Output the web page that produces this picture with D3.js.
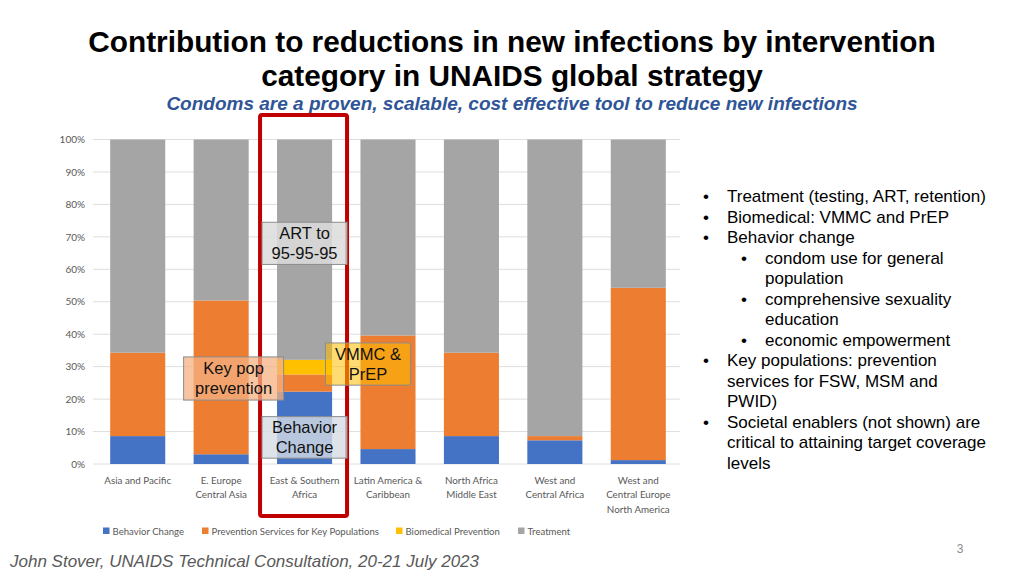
<!DOCTYPE html>
<html><head><meta charset="utf-8">
<script src="https://cdn.jsdelivr.net/npm/d3@7"></script>
<style>
html,body{margin:0;padding:0;background:#fff;}
svg{display:block;}
</style></head>
<body>
<svg id="c" width="1024" height="576"></svg>
<script>
const categories = ["Asia and Pacific", "E. Europe\nCentral Asia", "East & Southern\nAfrica", "Latin America &\nCaribbean", "North Africa\nMiddle East", "West and\nCentral Africa", "West and\nCentral Europe\nNorth America"];
const seriesNames = ["Behavior Change", "Prevention Services for Key Populations", "Biomedical Prevention", "Treatment"];
const behaviorChange = [8.6, 3.0, 22.3, 4.6, 8.6, 7.3, 1.2];
const keyPopulations = [25.7, 47.4, 5.3, 35.0, 25.7, 1.3, 53.1];
const biomedical = [0, 0, 4.5, 0, 0, 0, 0];
const treatment = [65.7, 49.6, 67.9, 60.4, 65.7, 91.4, 45.7];
const yTicks = [0, 10, 20, 30, 40, 50, 60, 70, 80, 90, 100];
const bullets = [
  {lvl:0, lines:["Treatment (testing, ART, retention)"]},
  {lvl:0, lines:["Biomedical: VMMC and PrEP"]},
  {lvl:0, lines:["Behavior change"]},
  {lvl:1, lines:["condom use for general", "population"]},
  {lvl:1, lines:["comprehensive sexuality", "education"]},
  {lvl:1, lines:["economic empowerment"]},
  {lvl:0, lines:["Key populations: prevention", "services for FSW, MSM and", "PWID)"]},
  {lvl:0, lines:["Societal enablers (not shown) are", "critical to attaining target coverage", "levels"]}
];
const callouts = [
  {lines:["ART to","95-95-95"], cat:2, y0:61.5, y1:74.5, fill:"#dcdcdc", op:0.85, dx:-15, w:85},
  {lines:["Key pop","prevention"], cat:1, y0:19.7, y1:33.0, fill:"#f4b183", op:0.75, dx:-10, w:100},
  {lines:["VMMC &","PrEP"], cat:3, y0:24.3, y1:37.3, fill:"#ffc000", op:0.55, dx:-35, w:85},
  {lines:["Behavior","Change"], cat:2, y0:1.8, y1:14.6, fill:"#d6dce5", op:0.8, dx:-15, w:85}
];

const colors = ["#4472c4", "#ed7d31", "#ffc000", "#a5a5a5"];
const svg = d3.select("#c");
const font = "'Liberation Sans', Arial, sans-serif";
const smallFont = "Lato, 'Open Sans', sans-serif";

// Titles
svg.append("text").attr("x", 512).attr("y", 52).attr("text-anchor", "middle")
  .style("font-family", font).style("font-weight", "bold").style("font-size", "29.8px").attr("fill", "#000")
  .text("Contribution to reductions in new infections by intervention");
svg.append("text").attr("x", 512).attr("y", 86).attr("text-anchor", "middle")
  .style("font-family", font).style("font-weight", "bold").style("font-size", "29.8px").attr("fill", "#000")
  .text("category in UNAIDS global strategy");
svg.append("text").attr("x", 512).attr("y", 110).attr("text-anchor", "middle")
  .style("font-family", font).style("font-weight", "bold").style("font-style", "italic").style("font-size", "19px").attr("fill", "#2f5597")
  .text("Condoms are a proven, scalable, cost effective tool to reduce new infections");

// Chart
const x = d3.scaleBand().domain(d3.range(categories.length)).range([96, 680]).paddingInner(0.34).paddingOuter(0.17);
const y = d3.scaleLinear().domain([0, 100]).range([464, 139.5]);

const g = svg.append("g");
g.selectAll("line.grid").data(yTicks).join("line")
  .attr("x1", 93).attr("x2", 680).attr("y1", d => y(d)).attr("y2", d => y(d))
  .attr("stroke", "#dedede").attr("stroke-width", 1);

const yAxis = d3.axisLeft(y).tickValues(yTicks).tickFormat(d => d + "%").tickSize(0).tickPadding(0);
const ya = g.append("g").attr("transform", "translate(85,0)").call(yAxis);
ya.select(".domain").remove();
ya.selectAll("text").style("font-family", smallFont).style("font-size", "10px").attr("fill", "#595959");

const table = categories.map((c, i) => ({i, s0: behaviorChange[i], s1: keyPopulations[i], s2: biomedical[i], s3: treatment[i]}));
const stack = d3.stack().keys(["s0", "s1", "s2", "s3"])(table);
g.selectAll("g.series").data(stack).join("g").attr("fill", (d, k) => colors[k])
  .selectAll("rect").data(d => d).join("rect")
  .attr("x", d => x(d.data.i)).attr("width", x.bandwidth())
  .attr("y", d => y(d[1])).attr("height", d => Math.max(0, y(d[0]) - y(d[1])));

// x labels
categories.forEach((c, i) => {
  const t = g.append("text").attr("text-anchor", "middle")
    .style("font-family", smallFont).style("font-size", "9.8px").attr("fill", "#595959");
  c.split("\n").forEach((ln, j) => {
    t.append("tspan").attr("x", x(i) + x.bandwidth() / 2).attr("y", 483.5 + j * 14.5).text(ln);
  });
});

// legend
const legX = [103, 202, 396, 518];
seriesNames.forEach((n, k) => {
  svg.append("rect").attr("x", legX[k]).attr("y", 527.5).attr("width", 6.5).attr("height", 6.5).attr("fill", colors[k]);
  svg.append("text").attr("x", legX[k] + 9.5).attr("y", 534.5)
    .style("font-family", smallFont).style("font-size", "9.6px").attr("fill", "#595959").text(n);
});

// red highlight box (drawn beneath the callouts)
svg.append("rect").attr("x", x(2) - 17).attr("y", 115).attr("width", 87).attr("height", 401)
  .attr("fill", "none").attr("stroke", "#c00000").attr("stroke-width", 4).attr("rx", 2);

// callouts
callouts.forEach(c => {
  const x0 = x(c.cat) + c.dx;
  const top = y(c.y1), bot = y(c.y0);
  svg.append("rect").attr("x", x0).attr("y", top).attr("width", c.w).attr("height", bot - top)
    .attr("fill", c.fill).attr("fill-opacity", c.op).attr("stroke", "#8c8c8c").attr("stroke-width", 1);
  const cx = x0 + c.w / 2, cy = (top + bot) / 2;
  c.lines.forEach((ln, j) => {
    svg.append("text").attr("x", cx).attr("y", cy + (j - 0.5) * 20 + 6).attr("text-anchor", "middle")
      .style("font-family", font).style("font-size", "16.5px").attr("fill", "#111").text(ln);
  });
});

// bullets
let ly = 202;
const lh = 20.5;
bullets.forEach(b => {
  const bx = b.lvl === 0 ? 703 : 741;
  const tx = b.lvl === 0 ? 727 : 765;
  svg.append("text").attr("x", bx).attr("y", ly).style("font-family", font).style("font-size", "17px").attr("fill", "#000").text("•");
  b.lines.forEach(ln => {
    svg.append("text").attr("x", tx).attr("y", ly).style("font-family", font).style("font-size", "17px").attr("fill", "#000").text(ln);
    ly += lh;
  });
});

// footer
svg.append("text").attr("x", 10).attr("y", 567).style("font-family", font).style("font-style", "italic").style("font-size", "17px").attr("fill", "#595959")
  .text("John Stover, UNAIDS Technical Consultation, 20-21 July 2023");
svg.append("text").attr("x", 960).attr("y", 553).attr("text-anchor", "middle").style("font-family", font).style("font-size", "12px").attr("fill", "#8c8c8c").text("3");
</script>
</body></html>
